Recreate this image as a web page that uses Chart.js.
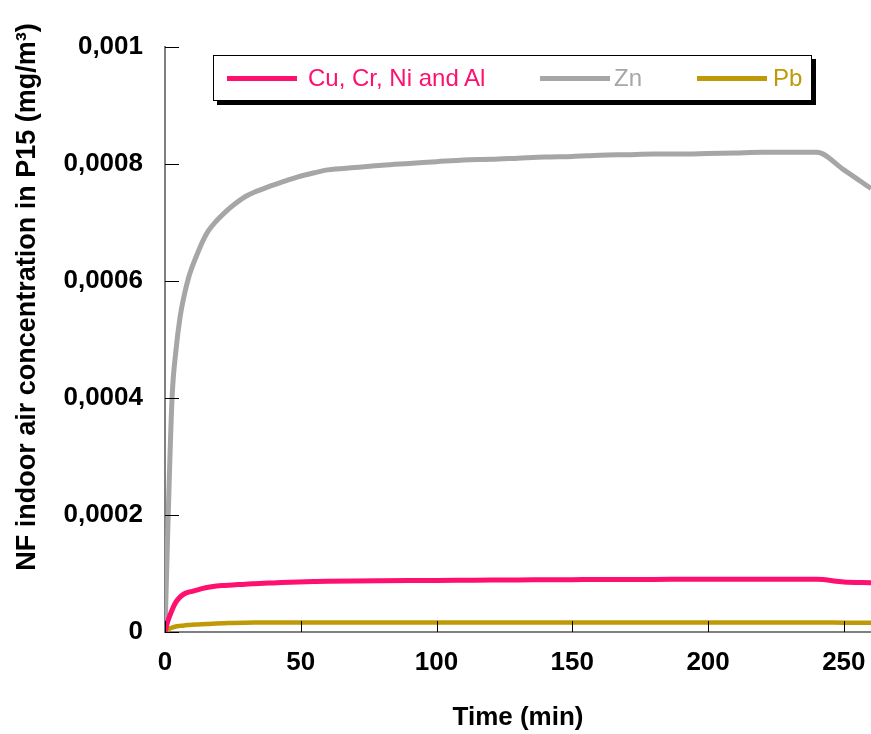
<!DOCTYPE html>
<html>
<head>
<meta charset="utf-8">
<script src="https://cdn.jsdelivr.net/npm/chart.js@4"></script>
<style>
  html, body { margin: 0; padding: 0; background: #fff; }
  #wrap { position: relative; width: 871px; height: 734px; }
  #legend { position: absolute; left: 213px; top: 55px; width: 597px; height: 44px;
            border: 1px solid #000; background: #fff; box-shadow: 4px 4px 0 #000;
            font-family: "Liberation Sans", Arial, sans-serif; font-size: 24px; }
  .li { position: absolute; top: 0; height: 44px; display: flex; align-items: center; white-space: nowrap; }
  .sw { display: inline-block; width: 70px; height: 5px; }
</style>
</head>
<body>
<div id="wrap">
  <canvas id="c" width="871" height="734"></canvas>
  <div id="legend"></div>
</div>
<script>
// ---- data ----
const timeMin = [0, 1, 2.6, 4, 5.6, 7, 8.7, 10, 12.4, 14, 16, 19, 22, 25, 29.5, 33, 38, 43, 49, 55, 60, 70, 80, 90, 100, 110, 120, 130, 140, 150, 160, 170, 180, 190, 200, 210, 220, 230, 240, 250, 260];
const cuCrNiAl = [0, 0.000018, 0.0000376, 0.000051, 0.00006, 0.000065, 0.000068, 0.0000695, 0.0000725, 0.0000745, 0.0000764, 0.0000785, 0.0000795, 0.0000803, 0.0000818, 0.0000826, 0.0000836, 0.0000846, 0.0000855, 0.0000862, 0.0000867, 0.0000873, 0.0000877, 0.000088, 0.0000882, 0.0000885, 0.0000888, 0.000089, 0.0000893, 0.0000895, 0.0000897, 0.0000898, 0.0000899, 0.00009, 0.00009, 0.00009, 0.00009, 0.00009, 0.00009, 0.0000855, 0.0000843];
const zn = [0, 0.00017, 0.0004, 0.00048, 0.00054, 0.000574, 0.000606, 0.000624, 0.000652, 0.000669, 0.000686, 0.000703, 0.000717, 0.000729, 0.000744, 0.000752, 0.000761, 0.000769, 0.000778, 0.000785, 0.00079, 0.000794, 0.000798, 0.000801, 0.000804, 0.000807, 0.000808, 0.00081, 0.000812, 0.000813, 0.000815, 0.000816, 0.000817, 0.000817, 0.000818, 0.000819, 0.00082, 0.00082, 0.00082, 0.00079, 0.000758];
const pb = [0, 0.000004, 0.0000075, 0.0000095, 0.0000105, 0.0000113, 0.000012, 0.0000125, 0.000013, 0.0000134, 0.0000138, 0.0000145, 0.000015, 0.0000155, 0.000016, 0.0000162, 0.0000163, 0.0000163, 0.0000163, 0.0000163, 0.0000163, 0.0000163, 0.0000163, 0.0000163, 0.0000163, 0.0000163, 0.0000163, 0.0000163, 0.0000163, 0.0000163, 0.0000163, 0.0000163, 0.0000163, 0.0000163, 0.0000163, 0.0000163, 0.0000163, 0.0000163, 0.0000163, 0.000016, 0.0000158];
const seriesLabels = ["Cu, Cr, Ni and Al", "Zn", "Pb"];
const seriesColors = ["#FF0F6E", "#A6A6A6", "#BF9A06"];
const yTickValues = [0, 0.0002, 0.0004, 0.0006, 0.0008, 0.001];
const xTitle = "Time (min)";
const yTitle = "NF indoor air concentration in P15 (mg/m³)";

const FONT = '"Liberation Sans", Arial, sans-serif';
const seriesValues = [cuCrNiAl, zn, pb];
const widths = [5, 5, 4.5];

const datasets = seriesValues.map((vals, i) => ({
  label: seriesLabels[i],
  data: timeMin.map((t, j) => ({x: t, y: vals[j]})),
  borderColor: seriesColors[i],
  backgroundColor: seriesColors[i],
  borderWidth: widths[i],
  pointRadius: 0,
  cubicInterpolationMode: 'monotone',
  fill: false
}));

function fmt(v) {
  if (v === 0) return "0";
  let s = v.toFixed(4).replace(/0+$/, '').replace(/\.$/, '');
  return s.replace('.', ',');
}

const inwardTicks = {
  id: 'inwardTicks',
  afterDatasetsDraw(chart) {
    const ctx = chart.ctx, a = chart.chartArea;
    const xs = chart.scales.x, ys = chart.scales.y;
    ctx.save();
    ctx.strokeStyle = '#000';
    ctx.lineWidth = 1;
    ys.ticks.forEach(t => {
      const y = Math.round(ys.getPixelForValue(t.value)) + 0.5;
      ctx.beginPath(); ctx.moveTo(a.left, y); ctx.lineTo(a.left + 14, y); ctx.stroke();
    });
    xs.ticks.forEach(t => {
      const x = Math.round(xs.getPixelForValue(t.value)) + 0.5;
      ctx.beginPath(); ctx.moveTo(x, a.bottom); ctx.lineTo(x, a.bottom - 11); ctx.stroke();
    });
    // y axis title
    ctx.translate(28, 297);
    ctx.rotate(-Math.PI / 2);
    ctx.fillStyle = '#000';
    ctx.font = 'bold 27px ' + FONT;
    ctx.textAlign = 'center';
    ctx.textBaseline = 'middle';
    ctx.fillText(yTitle, 0, 0);
    ctx.restore();
  }
};

new Chart(document.getElementById('c'), {
  type: 'line',
  data: { datasets },
  plugins: [inwardTicks],
  options: {
    responsive: false,
    animation: false,
    layout: { padding: { top: 47, right: 0, left: 0, bottom: 0 } },
    plugins: { legend: { display: false }, tooltip: { enabled: false } },
    scales: {
      x: {
        type: 'linear', min: 0, max: 260,
        border: { color: '#808080', width: 2 },
        grid: { drawOnChartArea: false, drawTicks: false },
        ticks: { stepSize: 50, includeBounds: false, padding: 15, color: '#000', maxRotation: 0,
                 font: { family: FONT, size: 26, weight: 'bold' } },
        title: { display: true, text: xTitle, color: '#000', padding: { top: 0, bottom: 1 },
                 font: { family: FONT, size: 26, weight: 'bold', lineHeight: 1.2 } },
        afterFit(s) { s.height = 102; s.paddingRight = 0; s.paddingLeft = 0; }
      },
      y: {
        type: 'linear', min: 0, max: 0.001,
        border: { color: '#808080', width: 2 },
        grid: { drawOnChartArea: false, drawTicks: false },
        afterBuildTicks(s) { s.ticks = yTickValues.map(v => ({ value: v })); },
        ticks: { padding: 22, color: '#000', callback: v => fmt(v),
                 font: { family: FONT, size: 26, weight: 'bold' } },
        afterFit(s) { s.width = 165; }
      }
    }
  }
});

// HTML legend built from the series arrays (swatch left, text left, relative to the box)
const legendPos = [[13, 94], [326, 400], [483, 559]];
const lg = document.getElementById('legend');
seriesLabels.forEach((lab, i) => {
  const sw = document.createElement('div');
  sw.className = 'li';
  sw.style.left = legendPos[i][0] + 'px';
  sw.innerHTML = '<span class="sw" style="background:' + seriesColors[i] + '"></span>';
  lg.appendChild(sw);
  const tx = document.createElement('div');
  tx.className = 'li';
  tx.style.left = legendPos[i][1] + 'px';
  tx.style.color = seriesColors[i];
  tx.textContent = lab;
  lg.appendChild(tx);
});
</script>
</body>
</html>
